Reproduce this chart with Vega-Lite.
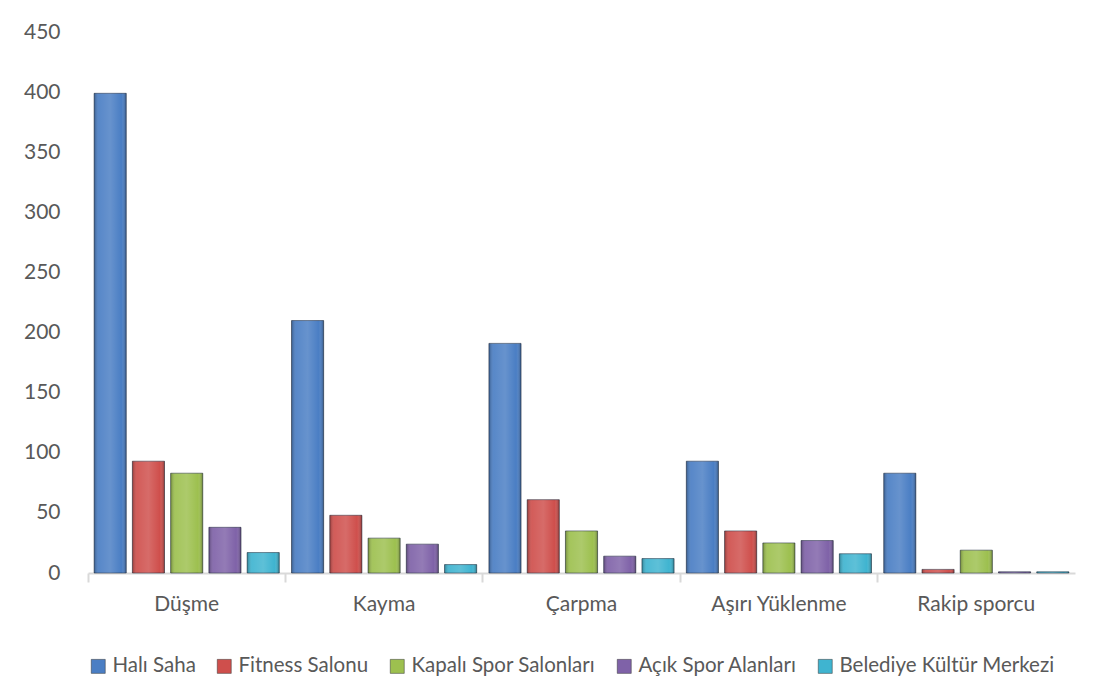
{
  "$schema": "https://vega.github.io/schema/vega-lite/v6.json",
  "width": 987,
  "height": 541,
  "autosize": {"type": "none"},
  "padding": {"left": 88, "top": 32, "right": 21, "bottom": 119},
  "background": "white",
  "config": {
    "view": {"stroke": null},
    "font": "Lato",
    "axis": {"labelFont": "Lato", "labelColor": "#595959", "grid": false},
    "legend": {"labelFont": "Lato", "labelColor": "#595959"}
  },
  "data": {
    "values": [
      {"kategori": "Düşme", "alan": "Halı Saha", "sayi": 399},
      {"kategori": "Düşme", "alan": "Fitness Salonu", "sayi": 93},
      {"kategori": "Düşme", "alan": "Kapalı Spor Salonları", "sayi": 83},
      {"kategori": "Düşme", "alan": "Açık Spor Alanları", "sayi": 38},
      {"kategori": "Düşme", "alan": "Belediye Kültür Merkezi", "sayi": 17},
      {"kategori": "Kayma", "alan": "Halı Saha", "sayi": 210},
      {"kategori": "Kayma", "alan": "Fitness Salonu", "sayi": 48},
      {"kategori": "Kayma", "alan": "Kapalı Spor Salonları", "sayi": 29},
      {"kategori": "Kayma", "alan": "Açık Spor Alanları", "sayi": 24},
      {"kategori": "Kayma", "alan": "Belediye Kültür Merkezi", "sayi": 7},
      {"kategori": "Çarpma", "alan": "Halı Saha", "sayi": 191},
      {"kategori": "Çarpma", "alan": "Fitness Salonu", "sayi": 61},
      {"kategori": "Çarpma", "alan": "Kapalı Spor Salonları", "sayi": 35},
      {"kategori": "Çarpma", "alan": "Açık Spor Alanları", "sayi": 14},
      {"kategori": "Çarpma", "alan": "Belediye Kültür Merkezi", "sayi": 12},
      {"kategori": "Aşırı Yüklenme", "alan": "Halı Saha", "sayi": 93},
      {"kategori": "Aşırı Yüklenme", "alan": "Fitness Salonu", "sayi": 35},
      {"kategori": "Aşırı Yüklenme", "alan": "Kapalı Spor Salonları", "sayi": 25},
      {"kategori": "Aşırı Yüklenme", "alan": "Açık Spor Alanları", "sayi": 27},
      {"kategori": "Aşırı Yüklenme", "alan": "Belediye Kültür Merkezi", "sayi": 16},
      {"kategori": "Rakip sporcu", "alan": "Halı Saha", "sayi": 83},
      {"kategori": "Rakip sporcu", "alan": "Fitness Salonu", "sayi": 3},
      {"kategori": "Rakip sporcu", "alan": "Kapalı Spor Salonları", "sayi": 19},
      {"kategori": "Rakip sporcu", "alan": "Açık Spor Alanları", "sayi": 1},
      {"kategori": "Rakip sporcu", "alan": "Belediye Kültür Merkezi", "sayi": 1}
    ]
  },
  "encoding": {
    "x": {
      "field": "kategori",
      "type": "nominal",
      "sort": ["Düşme", "Kayma", "Çarpma", "Aşırı Yüklenme", "Rakip sporcu"],
      "scale": {"paddingInner": 0, "paddingOuter": 0},
      "axis": {
        "title": null,
        "labelAngle": 0,
        "labelFontSize": 21,
        "labelPadding": 11,
        "bandPosition": 0,
        "domainColor": "#d9d9d9",
        "domainWidth": 2,
        "tickColor": "#d9d9d9",
        "tickWidth": 2,
        "tickSize": 9
      }
    },
    "xOffset": {
      "field": "alan",
      "type": "nominal",
      "sort": ["Halı Saha", "Fitness Salonu", "Kapalı Spor Salonları", "Açık Spor Alanları", "Belediye Kültür Merkezi"],
      "scale": {"paddingInner": 0.16, "paddingOuter": 0.16}
    },
    "y": {
      "field": "sayi",
      "type": "quantitative",
      "scale": {"domain": [0, 450], "nice": false},
      "axis": {
        "title": null,
        "values": [0, 50, 100, 150, 200, 250, 300, 350, 400, 450],
        "domain": false,
        "ticks": false,
        "labelFontSize": 21,
        "labelPadding": 28
      }
    }
  },
  "layer": [
    {
      "mark": {"type": "bar", "stroke": "#1f2a3a", "strokeOpacity": 0.55, "strokeWidth": 1},
      "encoding": {
        "color": {
          "field": "alan",
          "type": "nominal",
          "sort": ["Halı Saha", "Fitness Salonu", "Kapalı Spor Salonları", "Açık Spor Alanları", "Belediye Kültür Merkezi"],
          "scale": {
            "domain": ["Halı Saha", "Fitness Salonu", "Kapalı Spor Salonları", "Açık Spor Alanları", "Belediye Kültür Merkezi"],
            "range": ["#4a7ec4", "#cf4f4c", "#9dc04f", "#7f62a8", "#3fb4d0"]
          },
          "legend": {
            "title": null,
            "orient": "bottom",
            "direction": "horizontal",
            "symbolType": "square",
            "symbolSize": 196,
            "symbolStrokeColor": "#333",
            "symbolStrokeWidth": 0.5,
            "labelFontSize": 20.5,
            "labelLimit": 0,
            "columnPadding": 18,
            "symbolOffset": 0,
            "labelOffset": 4,
            "offset": 42
          }
        }
      }
    },
    {
      "mark": {
        "type": "bar",
        "fill": {
          "x1": 0, "y1": 0, "x2": 1, "y2": 0,
          "gradient": "linear",
          "stops": [
            {"offset": 0, "color": "rgba(0,0,0,0.28)"},
            {"offset": 0.15, "color": "rgba(255,255,255,0.08)"},
            {"offset": 0.5, "color": "rgba(255,255,255,0.16)"},
            {"offset": 0.85, "color": "rgba(255,255,255,0.0)"},
            {"offset": 1, "color": "rgba(0,0,0,0.32)"}
          ]
        }
      }
    }
  ]
}
